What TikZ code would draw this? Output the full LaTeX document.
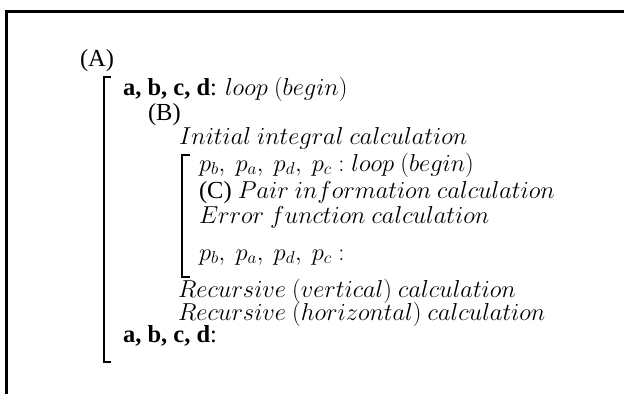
\RequirePackage{fix-cm}
\documentclass[tikz,border=0pt]{standalone}
\usepackage[no-math]{fontspec}
\setmainfont{Liberation Serif}
\newcommand\tx{\fontsize{24.5}{25}\selectfont}
\tikzset{
  line/.style={anchor=base west, inner sep=0pt, outer sep=0pt, font=\tx},
  frame/.style={line width=2.6pt},
  brk/.style={line width=1.5pt},
}
\begin{document}
\begin{tikzpicture}[x=1pt,y=-1pt]
\useasboundingbox (0,0) rectangle (624,394);
\draw[frame] (6.5,394) -- (6.5,11.5) -- (624,11.5);
% big bracket
\draw[brk] (111,77) -- (104,77) -- (104,362) -- (111,362);
\draw[line width=2.6pt] (104,76.5) -- (104,119);
% small bracket
\draw[brk] (190,155) -- (182,155) -- (182,277) -- (190,277);
\node[line] (A) at (80,66) {(A)};
\node[line] (l1) at (123,95) {\textbf{a, b, c, d}: $loop\ (begin)$};
\node[line] (B) at (148,120) {(B)};
\node[line] (l2) at (179,144) {$Initial\ integral\ calculation$};
\node[line] (l3) at (199,171) {$p_b,\ p_a,\ p_d,\ p_c: loop\ (begin)$};
\node[line] (l4) at (199,198) {(C) $Pair\ information\ calculation$};
\node[line] (l5) at (199,223) {$Error\ function\ calculation$};
\node[line] (l6) at (199,260) {$p_b,\ p_a,\ p_d,\ p_c:$};
\node[line] (l7) at (178,297) {$Recursive\ (vertical)\ calculation$};
\node[line] (l8) at (178,320) {$Recursive\ (horizontal)\ calculation$};
\node[line] (l9) at (123,342) {\textbf{a, b, c, d}:};
\end{tikzpicture}
\end{document}
